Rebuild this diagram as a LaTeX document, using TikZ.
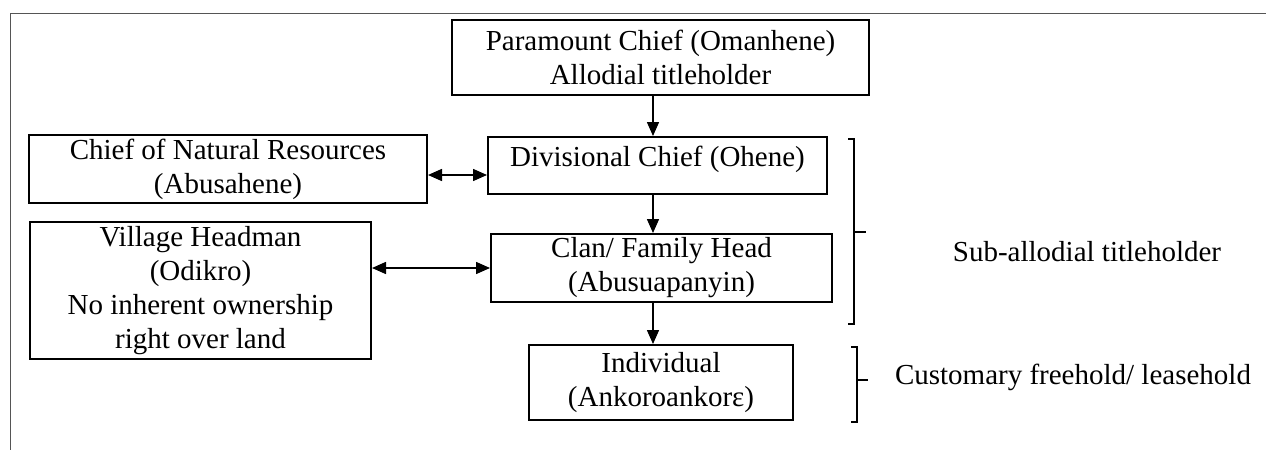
\documentclass[tikz,border=0pt]{standalone}
\usepackage{fontspec}
\setmainfont{Liberation Serif}
\usetikzlibrary{arrows.meta}
\definecolor{framegray}{RGB}{85,85,85}

\begin{document}
\begin{tikzpicture}[
  x=0.5pt, y=-0.5pt,
  font=\fontsize{14.5}{17}\selectfont,
  tier/.style={draw, line width=1pt, align=center, inner sep=0pt},
  arrow/.style={-{Triangle[length=7pt,width=6pt]}, line width=0.75pt},
  twoway/.style={{Triangle[length=7pt,width=6pt]}-{Triangle[length=7pt,width=6pt]}, line width=0.75pt},
  brace/.style={line width=0.6pt}
]
\useasboundingbox (0,0) rectangle (1266,450);
\draw[framegray, line width=0.5pt] (10,450) -- (10,13) -- (1266,13);
\coordinate (spine) at (653,0);
\node[tier, minimum width=208.5pt, minimum height=37.5pt] (para) at (660.5,57.5) {Paramount Chief (Omanhene)\\Allodial titleholder};
\node[tier, minimum width=169.5pt, text height=14.5pt, text depth=14pt] (div) at (657.5,165.5) {Divisional Chief (Ohene)};
\node[tier, minimum width=199pt, minimum height=34pt] (cnr) at (228,169) {Chief of Natural Resources\\(Abusahene)};
\node[tier, minimum width=170.5pt, minimum height=34pt] (clan) at (661.5,268) {Clan/ Family Head\\(Abusuapanyin)};
\node[tier, minimum width=170.5pt, minimum height=68.5pt] (vil) at (200.5,290.5) {Village Headman\\(Odikro)\\No inherent ownership\\right over land};
\node[tier, minimum width=132pt, minimum height=37.5pt] (ind) at (661,382.5) {Individual\\(Ankoroankorɛ)};
\node (sub) at (1087,252) {Sub-allodial titleholder};
\node (cust) at (1073,377) {Customary freehold/ leasehold};
\draw[arrow] (para.south -| spine) -- (div.north -| spine);
\draw[arrow] (div.south -| spine) -- (clan.north -| spine);
\draw[arrow] (clan.south -| spine) -- (ind.north -| spine);
\draw[twoway] ([yshift=-3pt]cnr.east) -- ([yshift=-3pt]cnr.east -| div.west);
\draw[twoway] (vil.east |- clan) -- (clan.west);
\draw[brace] (848,139) -- (854,139) -- (854,324) -- (848,324);
\draw[brace] (854,232) -- (866,232);
\draw[brace] (851,347) -- (857,347) -- (857,422) -- (851,422);
\draw[brace] (857,380) -- (868,380);
\end{tikzpicture}
\end{document}
